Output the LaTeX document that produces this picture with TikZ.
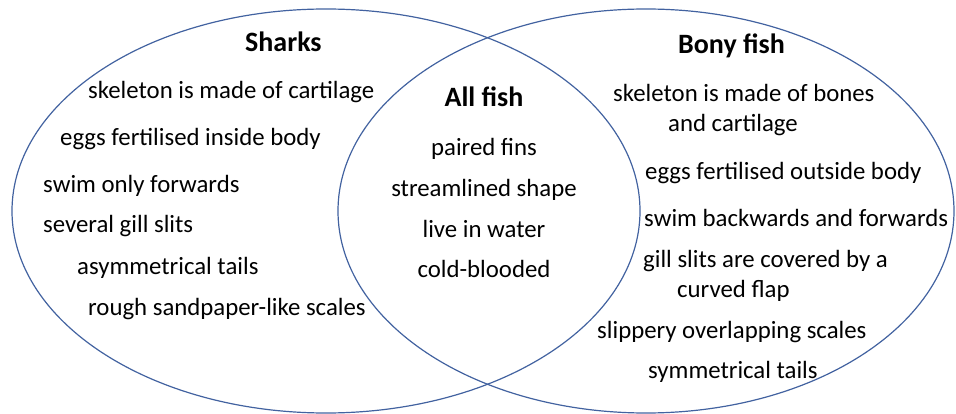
\documentclass[tikz,border=0pt]{standalone}
\usepackage{fontspec}
\setmainfont{Carlito}
\definecolor{rim}{RGB}{66,98,160}
\tikzset{
  item/.style={anchor=base west,inner sep=0pt,font=\fontsize{24.8}{30}\selectfont},
  midItem/.style={anchor=base,inner sep=0pt,font=\fontsize{24.8}{30}\selectfont},
  title/.style={anchor=base west,inner sep=0pt,font=\fontsize{28}{34}\selectfont\bfseries}
}
\begin{document}
\begin{tikzpicture}[x=1pt,y=-1pt,line cap=round,line join=round]
  \useasboundingbox (0,0) rectangle (956,414);

  % the two sets
  \draw[rim,line width=1.2pt] (326,211) ellipse [x radius=314pt,y radius=202pt];
  \draw[rim,line width=1.2pt] (646,211) ellipse [x radius=308pt,y radius=202pt];

  % sharks only
  \node[title] (sharks) at (245,52) {Sharks};
  \node[item] (s1) at (88,99) {skeleton is made of cartilage};
  \node[item] (s2) at (60,146) {eggs fertilised inside body};
  \node[item] (s3) at (43,193) {swim only forwards};
  \node[item] (s4) at (43,233) {several gill slits};
  \node[item] (s5) at (77,274) {asymmetrical tails};
  \node[item] (s6) at (88,315) {rough sandpaper-like scales};

  % overlap
  \node[title,anchor=base] (allfish) at (484,107) {All fish};
  \node[midItem] (a1) at (484,156) {paired fins};
  \node[midItem] (a2) at (484,197) {streamlined shape};
  \node[midItem] (a3) at (484,237) {live in water};
  \node[midItem] (a4) at (484,277) {cold-blooded};

  % bony fish only
  \node[title] (bony) at (678,54) {Bony fish};
  \node[item] (b1) at (613,102) {skeleton is made of bones};
  \node[item] (b1b) at (668,132) {and cartilage};
  \node[item] (b2) at (645,180) {eggs fertilised outside body};
  \node[item] (b3) at (644,227) {swim backwards and forwards};
  \node[item] (b4) at (643,267) {gill slits are covered by a};
  \node[item] (b4b) at (677,297) {curved flap};
  \node[item] (b5) at (597,338) {slippery overlapping scales};
  \node[item] (b6) at (648,378) {symmetrical tails};
\end{tikzpicture}
\end{document}
